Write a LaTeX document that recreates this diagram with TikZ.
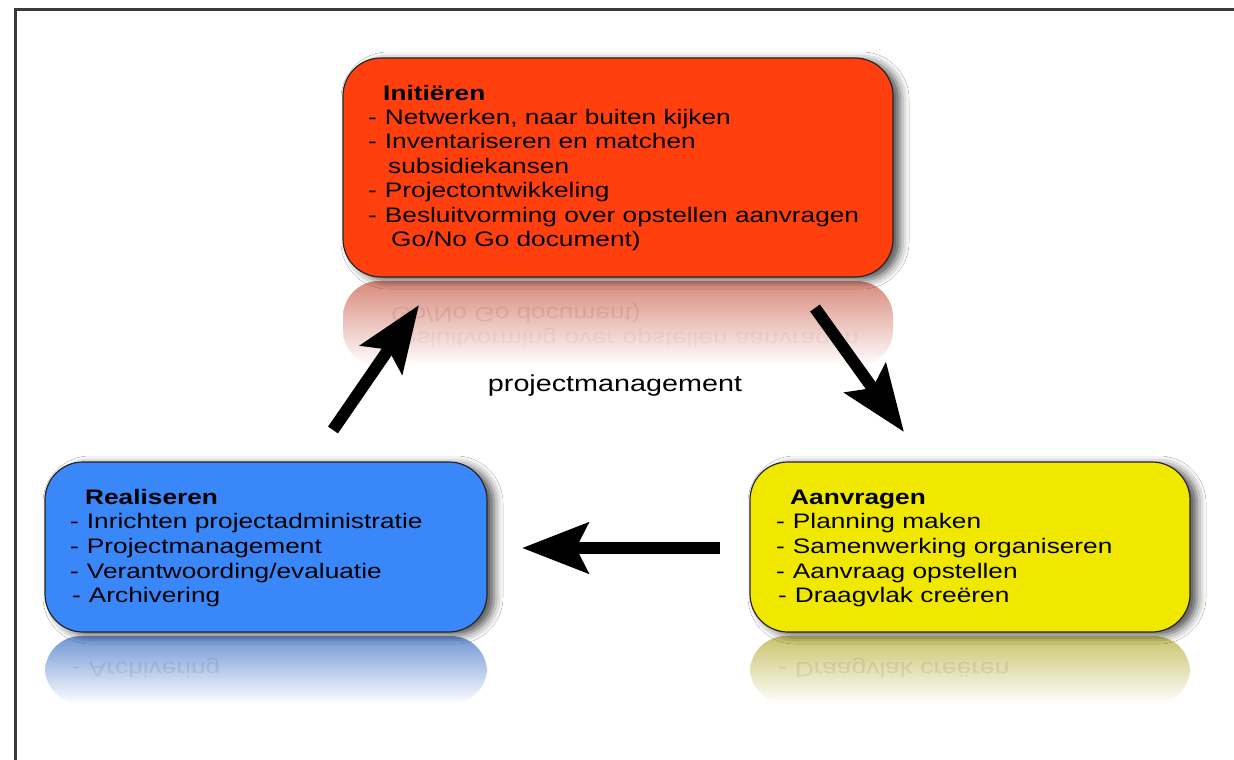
\documentclass[tikz,border=0pt]{standalone}
\usepackage{fontspec}
\setmainfont{Liberation Sans}
\newfontfamily\boxfont[FakeStretch=1.25]{Liberation Sans}
\usetikzlibrary{arrows.meta,shadows.blur}
\definecolor{redbox}{HTML}{FF3F0E}
\definecolor{bluebox}{HTML}{3A87F9}
\definecolor{yellowbox}{HTML}{F1E800}
\definecolor{framegray}{HTML}{3A3A3A}
\definecolor{redtop}{HTML}{D98A7C}
\definecolor{redmid}{HTML}{FAD6CD}
\definecolor{bluetop}{HTML}{7096D6}
\definecolor{bluemid}{HTML}{CCDCFA}
\definecolor{yeltop}{HTML}{C9C36A}
\definecolor{yelmid}{HTML}{F9F5C4}
\tikzset{
  card/.style={draw=black!85, line width=1.2pt, rounded corners=38pt,
    blur shadow={shadow xshift=7pt, shadow yshift=-3pt, shadow blur radius=9pt, shadow opacity=70}},
  txt/.style={anchor=base west, inner sep=0pt, font=\boxfont\fontsize{21}{24}\selectfont},
  ttl/.style={anchor=base west, inner sep=0pt, font=\boxfont\bfseries\fontsize{21}{24}\selectfont},
  mirr/.style={anchor=base west, inner sep=0pt, yscale=-1, font=\boxfont\fontsize{21}{24}\selectfont},
  bigarrow/.style={line width=12pt, -{Stealth[length=66pt,width=50pt,inset=12pt]}},
  refl/.style={rounded corners=36pt}
}
\begin{document}
\begin{tikzpicture}[x=1pt,y=-1pt]
\useasboundingbox (0,0) rectangle (1234,760);
\fill[white] (0,0) rectangle (1234,760);
% frame
\draw[framegray, line width=3pt] (15,760) -- (15,10) -- (1234,10);

% reflections
\shade[refl, top color=redtop, middle color=redmid, bottom color=white] (343,281) rectangle (893,366);
\shade[refl, top color=bluetop, middle color=bluemid, bottom color=white] (45,636) rectangle (487,704);
\shade[refl, top color=yeltop, middle color=yelmid, bottom color=white] (750,636) rectangle (1190,704);
\node[mirr, opacity=0.08] (rm1) at (391,307.5) {Go/No Go document)};
\node[mirr, opacity=0.04] (rm2) at (368,332) {-\hspace{8pt}Besluitvorming over opstellen aanvragen};
\node[mirr, opacity=0.08] (bm1) at (72,662) {-\hspace{8pt}Archivering};
\node[mirr, opacity=0.08] (ym1) at (778,662) {-\hspace{8pt}Draagvlak creëren};

% boxes
\node[card, fill=redbox, minimum width=550pt, minimum height=219pt] (init) at (618,167.5) {};
\node[card, fill=bluebox, minimum width=442pt, minimum height=170pt] (real) at (266,547) {};
\node[card, fill=yellowbox, minimum width=440pt, minimum height=170pt] (aanv) at (970,547) {};

% texts red
\node[ttl] (it) at (383,100) {Initiëren};
\node[txt] (i1) at (368,124) {-\hspace{8pt}Netwerken, naar buiten kijken};
\node[txt] (i2) at (368,148.5) {-\hspace{8pt}Inventariseren en matchen};
\node[txt] (i3) at (388,173) {subsidiekansen};
\node[txt] (i4) at (368,197.5) {-\hspace{8pt}Projectontwikkeling};
\node[txt] (i5) at (368,222) {-\hspace{8pt}Besluitvorming over opstellen aanvragen};
\node[txt] (i6) at (391,246.5) {Go/No Go document)};

% texts blue
\node[ttl] (rt) at (85,504) {Realiseren};
\node[txt] (r1) at (70,528) {-\hspace{8pt}Inrichten projectadministratie};
\node[txt] (r2) at (70,553) {-\hspace{8pt}Projectmanagement};
\node[txt] (r3) at (70,578) {-\hspace{8pt}Verantwoording/evaluatie};
\node[txt] (r4) at (72,602) {-\hspace{8pt}Archivering};

% texts yellow
\node[ttl] (at) at (790,504) {Aanvragen};
\node[txt] (a1) at (776,528) {-\hspace{8pt}Planning maken};
\node[txt] (a2) at (776,553) {-\hspace{8pt}Samenwerking organiseren};
\node[txt] (a3) at (776,578) {-\hspace{8pt}Aanvraag opstellen};
\node[txt] (a4) at (778,602) {-\hspace{8pt}Draagvlak creëren};

% centre label
\node[font=\boxfont\fontsize{23}{24}\selectfont, inner sep=0pt] (pm) at (615,386) {projectmanagement};

% arrows
\coordinate (u1) at (333,430);
\coordinate (u2) at (419,305);
\coordinate (d1) at (815,308);
\coordinate (d2) at (904,432);
\coordinate (h1) at (720,548);
\coordinate (h2) at (522,548);
\draw[bigarrow] (u1) -- (u2);
\draw[bigarrow] (d1) -- (d2);
\draw[bigarrow] (h1) -- (h2);
\end{tikzpicture}
\end{document}
